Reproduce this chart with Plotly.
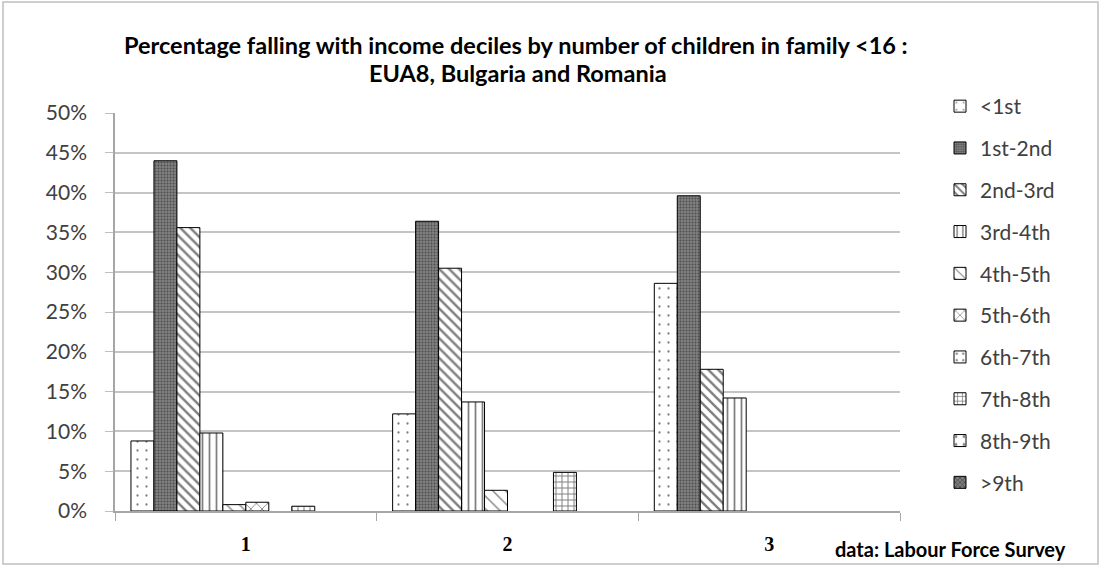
import plotly.graph_objects as go

# Number of children under 16 in the family
categories = ["1", "2", "3"]

# Share of families falling in each income-decile band
deciles = ["<1st", "1st-2nd", "2nd-3rd", "3rd-4th", "4th-5th",
           "5th-6th", "6th-7th", "7th-8th", "8th-9th", ">9th"]
below_1st = [0.088, 0.122, 0.286]
d1_2 = [0.440, 0.364, 0.396]
d2_3 = [0.356, 0.305, 0.178]
d3_4 = [0.098, 0.137, 0.142]
d4_5 = [0.008, 0.026, None]
d5_6 = [0.011, None, None]
d6_7 = [None, None, None]
d7_8 = [0.006, 0.0485, None]
d8_9 = [None, None, None]
above_9th = [None, None, None]

series = [below_1st, d1_2, d2_3, d3_4, d4_5, d5_6, d6_7, d7_8, d8_9, above_9th]

# Monochrome fill patterns for each band: (shape, bg, fg, size, solidity)
patterns = [
    (".", "white", "black", 9, 0.05),
    (".", "#808080", "#1a1a1a", 3, 0.35),
    ("\\", "white", "black", 7, 0.35),
    ("|", "white", "black", 7, 0.25),
    ("\\", "white", "black", 9, 0.15),
    ("x", "white", "black", 8, 0.2),
    (".", "white", "black", 8, 0.12),
    ("+", "white", "black", 6, 0.3),
    (".", "white", "black", 10, 0.1),
    ("x", "#808080", "black", 4, 0.4),
]

W, H = 1101, 566
L, R, T, B = 115, 201, 113, 55

fig = go.Figure()
for name, vals, (shape, bg, fg, size, sol) in zip(deciles, series, patterns):
    fig.add_trace(go.Bar(
        x=categories, y=vals, name=name, legendgroup=name,
        marker=dict(
            color=bg,
            line=dict(color="black", width=1),
            pattern=dict(shape=shape, bgcolor=bg, fgcolor=fg,
                         size=size, solidity=sol, fillmode="overlay"),
        ),
    ))

pw = W - L - R
ph = H - T - B

def px_x(p):
    return (p - L) / pw

def px_y(p):
    return (H - B - p) / ph

fig.update_layout(
    width=W, height=H,
    margin=dict(l=L, r=R, t=T, b=B),
    paper_bgcolor="white", plot_bgcolor="white",
    barmode="group", bargap=0.122, bargroupgap=0,
    font=dict(family="Lato, Open Sans, sans-serif", color="#404040"),
    showlegend=True,
    legend=dict(
        x=px_x(940), y=px_y(86), xanchor="left", yanchor="top",
        font=dict(size=21, color="#404040"),
        tracegroupgap=11.5, itemwidth=30, maxheight=800,
        bgcolor="rgba(0,0,0,0)",
    ),
    xaxis=dict(
        type="category", tickson="boundaries",
        ticks="outside", ticklen=8, tickcolor="#a6a6a6",
        showline=True, linecolor="#a6a6a6", linewidth=1.5,
        tickfont=dict(family="Liberation Serif", size=20, color="black",
                      weight="bold"),
        ticklabelstandoff=14,
        showgrid=False,
    ),
    yaxis=dict(
        range=[0, 0.5], dtick=0.05, tickformat=".0%",
        ticks="outside", ticklen=8, tickcolor="#bfbfbf",
        showline=True, linecolor="#a6a6a6", linewidth=1.5,
        showgrid=True, gridcolor="#c4c4c4", gridwidth=2,
        tickfont=dict(size=21, color="#404040"),
        ticklabelstandoff=14,
        zeroline=False,
    ),
    shapes=[dict(
        type="rect", xref="paper", yref="paper",
        x0=px_x(3), x1=px_x(1098), y0=px_y(564), y1=px_y(2),
        line=dict(color="#bfbfbf", width=1.5), layer="below",
    )],
    annotations=[
        dict(text="<b>Percentage falling with income deciles by number of children in family <16 :</b>",
             xref="paper", yref="paper", x=px_x(516), y=px_y(45),
             xanchor="center", yanchor="middle", showarrow=False,
             font=dict(size=23.5, color="black")),
        dict(text="<b>EUA8, Bulgaria and Romania</b>",
             xref="paper", yref="paper", x=px_x(518), y=px_y(73),
             xanchor="center", yanchor="middle", showarrow=False,
             font=dict(size=23.5, color="black")),
        dict(text="<b>data: Labour Force Survey</b>",
             xref="paper", yref="paper", x=px_x(1068), y=px_y(549),
             xanchor="right", yanchor="middle", showarrow=False,
             font=dict(size=20, color="black")),
    ],
)

fig.write_html("out.html")
